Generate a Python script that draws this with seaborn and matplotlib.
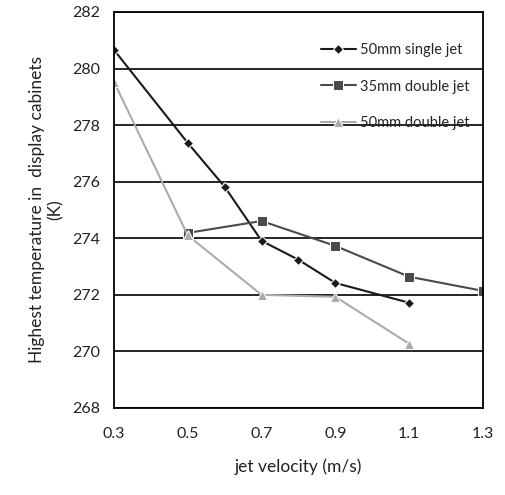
import pandas as pd
import seaborn as sns
from matplotlib import pyplot as plt

# jet velocity (m/s) and highest temperature (K)
v_single50 = [0.3, 0.5, 0.6, 0.7, 0.8, 0.9, 1.1]
t_single50 = [280.66, 277.37, 275.82, 273.91, 273.24, 272.42, 271.72]

v_double35 = [0.5, 0.7, 0.9, 1.1, 1.3]
t_double35 = [274.19, 274.61, 273.73, 272.64, 272.14]

v_double50 = [0.3, 0.5, 0.7, 0.9, 1.1]
t_double50 = [279.53, 274.10, 272.00, 271.93, 270.27]

series_names = ["50mm single jet", "35mm double jet", "50mm double jet"]
x_ticks = [0.3, 0.5, 0.7, 0.9, 1.1, 1.3]
y_ticks = [268, 270, 272, 274, 276, 278, 280, 282]

df = pd.concat([
    pd.DataFrame({"v": v_single50, "T": t_single50, "series": series_names[0]}),
    pd.DataFrame({"v": v_double35, "T": t_double35, "series": series_names[1]}),
    pd.DataFrame({"v": v_double50, "T": t_double50, "series": series_names[2]}),
])

sns.set_theme(style="white")
plt.rcParams["font.family"] = ["Lato", "DejaVu Sans"]

fig = plt.figure(figsize=(5.05, 4.95), dpi=100)
ax = fig.add_axes([0.2257, 0.1758, 0.7307, 0.8000])

palette = {series_names[0]: "#1a1a1a", series_names[1]: "#4a4a4a", series_names[2]: "#ababab"}
markers = {series_names[0]: "D", series_names[1]: "s", series_names[2]: "^"}

sns.lineplot(data=df, x="v", y="T", hue="series", style="series",
             palette=palette, markers=markers, dashes=False,
             markersize=7, linewidth=1.5, ax=ax, sort=False)

# diamonds are a bit smaller in the original
for line in ax.get_lines():
    if line.get_marker() == "D":
        line.set_markersize(5)

ax.set_xlim(0.3, 1.3)
ax.set_ylim(268, 282)
ax.set_xticks(x_ticks)
ax.set_xticklabels([f"{t:.1f}" for t in x_ticks])
ax.set_yticks(y_ticks)
ax.yaxis.grid(True, color="black", linewidth=1.2)
ax.xaxis.grid(False)
ax.tick_params(axis="both", length=0, labelsize=11.5, colors="#222222", pad=14)
ax.tick_params(axis="y", pad=10)
for sp in ax.spines.values():
    sp.set_color("black")
    sp.set_linewidth(1.3)

ax.set_xlabel("jet velocity (m/s)", fontsize=12.5, color="#222222", labelpad=12)
ax.set_ylabel("Highest temperature in  display cabinets\n(K)", fontsize=12.5,
              color="#222222", labelpad=6)

leg = ax.legend(title=None, frameon=False, loc="upper right",
                bbox_to_anchor=(1.0, 0.955), fontsize=10.5, handlelength=2.4,
                labelspacing=1.55, handletextpad=0.3)

fig.savefig("out.png", dpi=100)
